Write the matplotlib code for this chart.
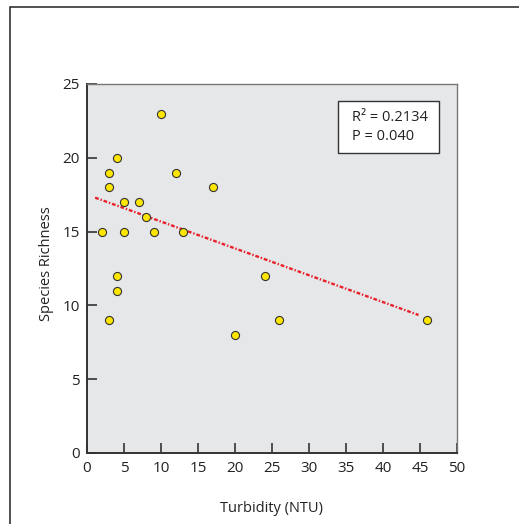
import matplotlib

matplotlib.use("Agg")
import matplotlib.pyplot as plt
from matplotlib.patches import Rectangle

plt.rcParams["font.family"] = ["Open Sans", "DejaVu Sans"]

turbidity = [2, 3, 3, 3, 4, 4, 4, 5, 5, 7, 8, 9, 10, 12, 13, 17, 20, 24, 26, 46]
richness = [15, 19, 18, 9, 20, 12, 11, 17, 15, 17, 16, 15, 23, 19, 15, 18, 8, 12, 9, 9]
trend_x = [1.1, 44.8]
trend_y = [17.3, 9.35]
stats_lines = ["R² = 0.2134", "P = 0.040"]

fig = plt.figure(figsize=(5.19, 5.24), dpi=100)
# outer frame, open past the right and bottom edges
fig.patches.append(
    Rectangle(
        (10 / 519, -0.1),
        1.2,
        1.1 - 7 / 524,
        transform=fig.transFigure,
        fill=False,
        edgecolor="#222222",
        linewidth=1.1,
    )
)
ax = fig.add_axes([87 / 519, 71 / 524, 370 / 519, 369 / 524])
ax.set_facecolor("#e6e7e9")

ax.plot(
    trend_x,
    trend_y,
    color="#e8202a",
    linewidth=1.7,
    linestyle=(0, (1.6, 0.8, 0.6, 0.8)),
    zorder=2,
)
ax.scatter(
    turbidity,
    richness,
    s=34,
    color="#ffe600",
    edgecolor="#333333",
    linewidths=0.8,
    zorder=3,
)

ax.set_xlim(0, 50)
ax.set_ylim(0, 25)
ax.set_xticks(range(0, 51, 5))
ax.set_yticks(range(0, 26, 5))
ax.tick_params(direction="in", length=7, width=1.2, colors="#333333",
               labelsize=11, labelcolor="#222222")
ax.tick_params(axis="x", pad=6)
ax.tick_params(axis="y", pad=5)
for side in ("left", "bottom"):
    ax.spines[side].set_linewidth(1.4)
    ax.spines[side].set_color("#333333")
for side in ("right", "top"):
    ax.spines[side].set_linewidth(1.0)
    ax.spines[side].set_color("#777777")
ax.set_xlabel("Turbidity (NTU)", fontsize=10.5, color="#222222", labelpad=18)
ax.set_ylabel("Species Richness", fontsize=10.5, color="#222222")
ax.yaxis.set_label_coords(-0.089, 0.512)

ax.add_patch(
    Rectangle(
        (0.678, 0.813),
        0.273,
        0.141,
        transform=ax.transAxes,
        facecolor="white",
        edgecolor="#333333",
        linewidth=1.0,
        zorder=4,
    )
)
for i, line in enumerate(stats_lines):
    ax.text(0.716, 0.908 - i * 0.05, line, transform=ax.transAxes,
            fontsize=10.5, color="#222222", va="center", zorder=5)

fig.savefig("out.png", dpi=100)
